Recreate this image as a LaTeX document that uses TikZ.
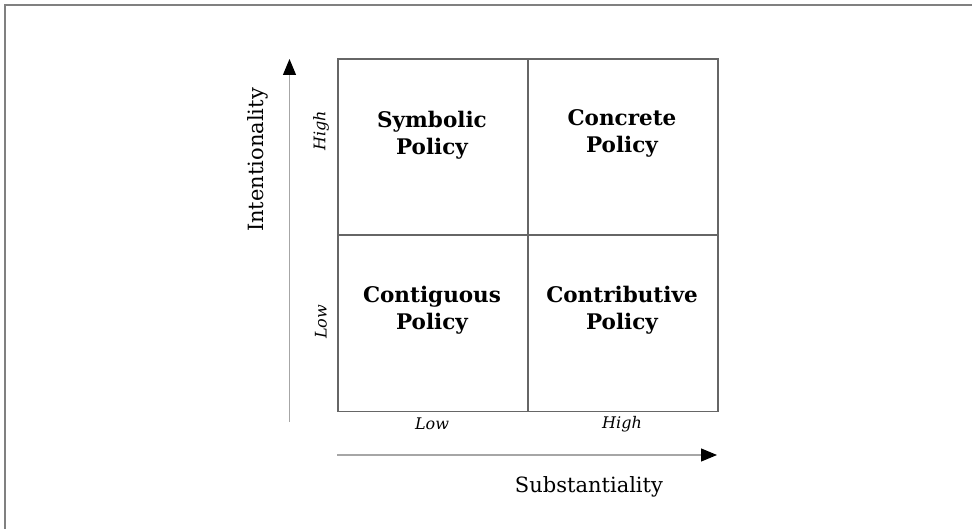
\documentclass[tikz,border=0pt]{standalone}
\usepackage{fontspec}
\setmainfont{DejaVu Serif}
\usetikzlibrary{arrows.meta}
\begin{document}
\begin{tikzpicture}[x=1pt,y=-1pt,
  cell/.style={draw=black!60,line width=1.6pt,minimum width=190pt,minimum height=176pt,inner sep=0pt,anchor=north west},
  celltext/.style={font=\fontsize{21.5}{27}\selectfont\bfseries,align=center,inner sep=0pt},
  axislabel/.style={font=\fontsize{21}{25}\selectfont,inner sep=0pt},
  ticklabel/.style={font=\fontsize{16}{20}\selectfont\itshape,inner sep=0pt},
  axisline/.style={draw=black!35,line width=1.2pt,-{Triangle[length=16pt,width=13pt,black]}},
  frameline/.style={draw=black!50,line width=2pt}]
\useasboundingbox (0,0) rectangle (972,529);
% outer frame (top and left only)
\coordinate (ftl) at (4.5,5.5);
\coordinate (ftr) at (972,5.5);
\coordinate (fbl) at (4.5,529);
\draw[frameline] (fbl) -- (ftl) -- (ftr);
% cells
\node[cell] (c11) at (337,58.5) {};
\node[cell] (c12) at (527,58.5) {};
\node[cell] (c21) at (337,234.5) {};
\node[cell] (c22) at (527,234.5) {};
% cell texts
\node[celltext] (t11) at (432,135) {Symbolic\\Policy};
\node[celltext] (t12) at (622,133) {Concrete\\Policy};
\node[celltext] (t21) at (432,310) {Contiguous\\Policy};
\node[celltext] (t22) at (622,310) {Contributive\\Policy};
% axes
\coordinate (ya) at (289.5,422);
\coordinate (yb) at (289.5,59);
\coordinate (xa) at (337,455);
\coordinate (xb) at (717,455);
\draw[axisline] (ya) -- (yb);
\draw[axisline] (xa) -- (xb);
% axis labels
\node[axislabel,rotate=90] (ylab) at (258,160) {Intentionality};
\node[axislabel] (xlab) at (589,487) {Substantiality};
% tick labels
\node[ticklabel,rotate=90] (yhigh) at (321,131) {High};
\node[ticklabel,rotate=90] (ylow) at (321,322) {Low};
\node[ticklabel] (xlow) at (432,424) {Low};
\node[ticklabel] (xhigh) at (622,424) {High};
\end{tikzpicture}
\end{document}
